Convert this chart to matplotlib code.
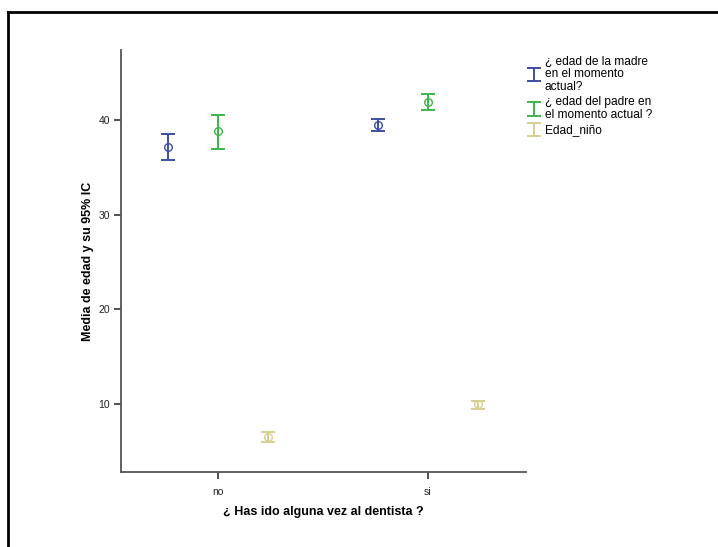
import numpy as np
import matplotlib.pyplot as plt
from matplotlib.lines import Line2D
from matplotlib.legend_handler import HandlerErrorbar

plt.rcParams['font.family'] = ['Liberation Sans', 'DejaVu Sans']

# Categories and group means with 95% CI
categories = ['no', 'si']
series_labels = ['¿ edad de la madre\nen el momento\nactual?',
                 '¿ edad del padre en\nel momento actual ?',
                 'Edad_niño']
means = {
    'madre': [37.1, 39.5],
    'padre': [38.8, 41.9],
    'nino': [6.5, 9.95],
}
ci_low = {
    'madre': [35.8, 38.8],
    'padre': [36.9, 41.1],
    'nino': [6.0, 9.5],
}
ci_high = {
    'madre': [38.5, 40.1],
    'padre': [40.5, 42.75],
    'nino': [7.0, 10.3],
}
series_keys = ['madre', 'padre', 'nino']
colors = ['#3d4fa3', '#3cb54b', '#d6cf90']
offsets = [-0.238, 0.0, 0.238]

fig = plt.figure(figsize=(7.18, 5.47), dpi=100)
ax = fig.add_axes([121 / 718, 1 - 472 / 547, 405 / 718, 422 / 547])

x = np.arange(len(categories))
handles = []
for key, col, off, lab in zip(series_keys, colors, offsets, series_labels):
    m = np.array(means[key])
    lo = m - np.array(ci_low[key])
    hi = np.array(ci_high[key]) - m
    eb = ax.errorbar(x + off, m, yerr=[lo, hi], fmt='none', ecolor=col,
                     elinewidth=1.4, capsize=4.7, capthick=1.4)
    ax.plot(x + off, m, 'o', mfc='none', mec=col, ms=5.5, mew=1.0)
    handles.append(eb)

ax.set_xlim(-0.462, 1.467)
ax.set_ylim(2.82, 47.39)
ax.set_xticks(x)
ax.set_xticklabels(categories)
ax.set_yticks([10, 20, 30, 40])

for side in ['top', 'right']:
    ax.spines[side].set_visible(False)
for side in ['left', 'bottom']:
    ax.spines[side].set_color('#555555')
    ax.spines[side].set_linewidth(1.3)
ax.tick_params(axis='both', direction='out', length=5, width=1.2,
               color='#333333', labelsize=7.5, labelcolor='#222222', pad=3)
ax.tick_params(axis='x', pad=6)

ax.set_xlabel('¿ Has ido alguna vez al dentista ?', fontsize=9,
              fontweight='bold', labelpad=6)
ax.set_ylabel('Media de edad y su 95% IC', fontsize=9, fontweight='bold',
              labelpad=3)

leg = fig.legend(handles, series_labels, loc='upper left',
                 bbox_to_anchor=(530 / 718, 1 - 56 / 547), frameon=False,
                 fontsize=8.6, handlelength=0.7, handletextpad=0.55,
                 labelspacing=0.3, borderaxespad=0, borderpad=0,
                 handler_map={type(handles[0]): HandlerErrorbar(yerr_size=0.55)})
for t in leg.get_texts():
    t.set_linespacing(1.05)

# outer frame (left and top edges visible in the reference)
fig.add_artist(Line2D([8 / 718, 8 / 718], [0, 1 - 12 / 547],
                      transform=fig.transFigure, color='black', lw=2))
fig.add_artist(Line2D([8 / 718, 1], [1 - 12 / 547, 1 - 12 / 547],
                      transform=fig.transFigure, color='black', lw=2))

fig.savefig('out.png', dpi=100)
